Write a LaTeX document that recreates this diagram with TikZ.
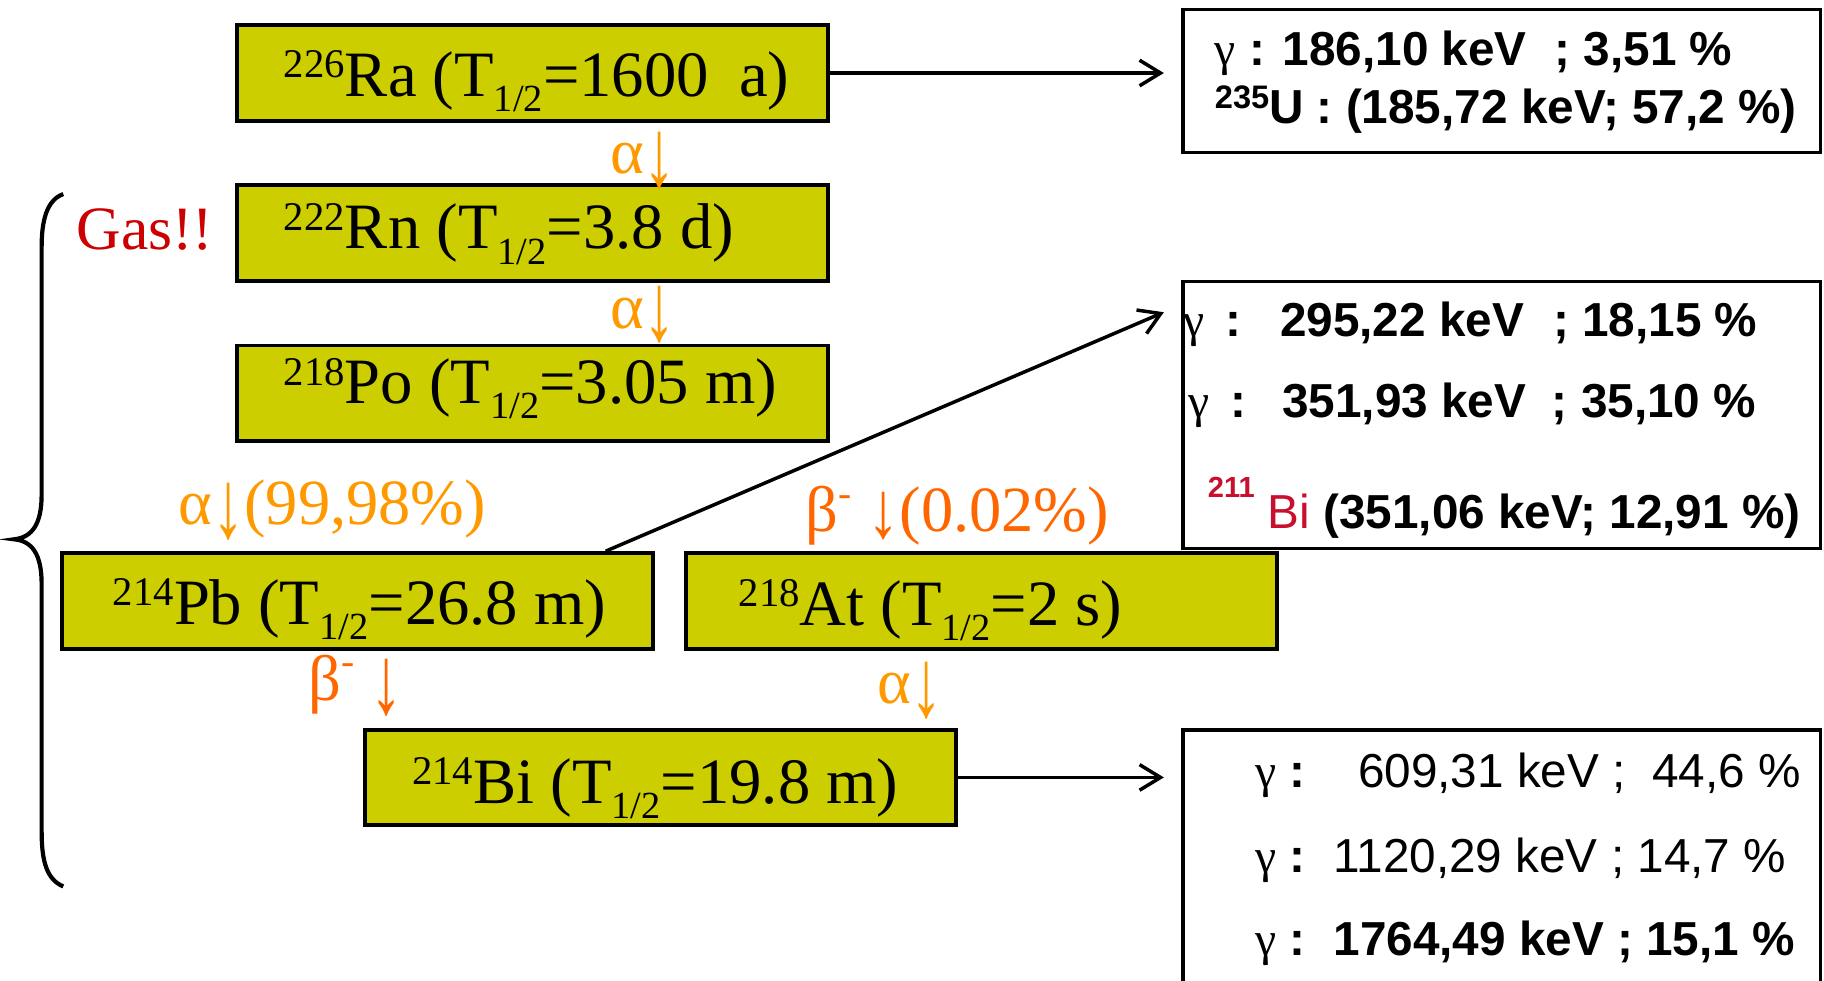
\documentclass[tikz,border=0pt]{standalone}
\usepackage{fontspec}
\usepackage{graphicx}
\setmainfont{Liberation Serif}
\newfontfamily\arialf{Liberation Sans}
\usetikzlibrary{arrows.meta}
\definecolor{boxfill}{RGB}{204,206,0}
\definecolor{amber}{RGB}{255,153,0}
\definecolor{orgB}{RGB}{255,102,0}
\definecolor{gasred}{RGB}{204,0,0}
\definecolor{crim}{RGB}{200,16,46}
\newcommand\isup[1]{\raisebox{8pt}{\fontsize{17.5}{18}\selectfont #1}}
\newcommand\isub[1]{\raisebox{-6.5pt}{\fontsize{16.5}{18}\selectfont #1}}
\newcommand\gam{{\rmfamily\mdseries γ}}
\newcommand\minus[1]{\raisebox{#1}{\fontsize{17}{18}\selectfont -}}
\newcommand\darr[2]{\raisebox{#2}{\scalebox{1}[#1]{↓}}}
\begin{document}
\begin{tikzpicture}[x=0.5pt,y=-0.5pt,
  nuc/.style={draw=black, line width=1.7pt, fill=boxfill, minimum width=254pt, minimum height=41pt, inner sep=0pt},
  ntext/.style={anchor=base west, inner sep=0pt, font=\fontsize{27.8}{30}\selectfont},
  lab/.style={anchor=base west, inner sep=0pt, font=\fontsize{27.7}{30}\selectfont},
  gbox/.style={draw=black, line width=1.5pt, minimum width=274pt, inner sep=0pt},
  gtext/.style={anchor=base west, inner sep=0pt, font=\arialf\bfseries\fontsize{20.5}{24}\selectfont},
  conn/.style={line width=1.5pt, -{Straight Barb[length=9pt,width=11pt,line width=1.5pt]}}]
\useasboundingbox (0,0) rectangle (1568,843);

% decay chain boxes
\node[nuc] (ra) at (458,62.75) {};
\node[nuc] (rn) at (458,200.3) {};
\node[nuc] (po) at (458,338) {};
\node[nuc] (pb) at (307,516.5) {};
\node[nuc] (at) at (844,516.5) {};
\node[nuc] (bi) at (568,668.3) {};

\node[ntext] (raT) at (243.6,83) {\isup{226}Ra (T\isub{1/2}=1600\hspace{13pt}a)};
\node[ntext] (rnT) at (243.6,214) {\isup{222}Rn (T\isub{1/2}=3.8 d)};
\node[ntext] (poT) at (243.6,347) {\isup{218}Po (T\isub{1/2}=3.05 m)};
\node[ntext] (pbT) at (96.7,536.7) {\isup{214}Pb (T\isub{1/2}=26.8 m)};
\node[ntext] (atT) at (634.7,537.3) {\isup{218}At (T\isub{1/2}=2 s)};
\node[ntext] (biT) at (354,690.6) {\isup{214}Bi (T\isub{1/2}=19.8 m)};

% decay labels
\node[lab, text=amber] (l1) at (524,149) {α\darr{1.5}{-5.5pt}};
\node[lab, text=amber] (l2) at (524,282) {α\darr{1.5}{-5.5pt}};
\node[lab, text=amber] (l3) at (153,451) {α\darr{1.5}{-5.5pt}(99,98\%)};
\node[lab, text=orgB] (l4) at (692,457) {β\minus{11pt}\ \darr{1.25}{-2.5pt}(0.02\%)};
\node[lab, text=orgB] (l5) at (265,602) {β\minus{11pt}\ \darr{1.5}{-5.5pt}};
\node[lab, text=amber] (l6) at (753.6,604.5) {α\darr{1.5}{-5.5pt}};

% gas label and brace
\node[anchor=base west, inner sep=0pt, text=gasred, font=\fontsize{26.5}{30}\selectfont] (gas) at (65.4,214.3) {Gas!!};
\draw[line width=1.8pt] (54.4,166.8) .. controls (40,172) and (35.8,190) .. (35.8,212)
  -- (35.8,425) .. controls (35.8,450) and (28,462) .. (12,463.6)
  .. controls (28,465) and (35.8,477) .. (35.8,502)
  -- (35.8,715) .. controls (35.8,740) and (40,756) .. (54.4,762);

% gamma boxes
\node[gbox, minimum height=61.4pt] (g1) at (1291,69.7) {};
\node[gbox, minimum height=114.7pt] (g2) at (1291,356.6) {};
\node[gbox, minimum height=125.5pt] (g3) at (1291,753) {};

\node[gtext] (g1a) at (1044,56) {\gam\ : 186,10 keV\hspace{12pt}; 3,51 \%};
\node[gtext] (g1b) at (1044,106) {\raisebox{6.25pt}{\fontsize{14}{14}\selectfont 235}U : (185,72 keV; 57,2 \%)};

\node[gtext] (g2a) at (1017,289) {\makebox[41.5pt][l]{\gam\hspace{9pt}:}295,22 keV\hspace{12.5pt}; 18,15 \%};
\node[gtext] (g2b) at (1021,359) {\makebox[40.5pt][l]{\gam\hspace{9pt}:}351,93 keV\hspace{11pt}; 35,10 \%};
\node[gtext] (g2c) at (1038,454) {\textcolor{crim}{\raisebox{13pt}{\fontsize{12.5}{13}\selectfont 211}\hspace{5.5pt}{\mdseries Bi}} (351,06 keV; 12,91 \%)};

\node[gtext] (g3a) at (1079,677) {\makebox[44pt][l]{\gam\ :}{\mdseries 609,31 keV ; \ 44,6 \%}};
\node[gtext] (g3b) at (1079,750) {\makebox[33.5pt][l]{\gam\ :}{\mdseries 1120,29 keV ; 14,7 \%}};
\node[gtext] (g3c) at (1079,821) {\makebox[33.5pt][l]{\gam\ :}1764,49 keV ; 15,1 \%};

% connectors
\draw[conn, shorten >=7.5pt] (ra.east) -- (ra.east -| g1.west);
\draw[conn] ([xshift=-21pt]pb.north east) -- ([xshift=-7.5pt,yshift=-14pt]g2.north west);
\draw[conn, shorten >=7.5pt] (bi.east) -- (bi.east -| g3.west);
\end{tikzpicture}
\end{document}
